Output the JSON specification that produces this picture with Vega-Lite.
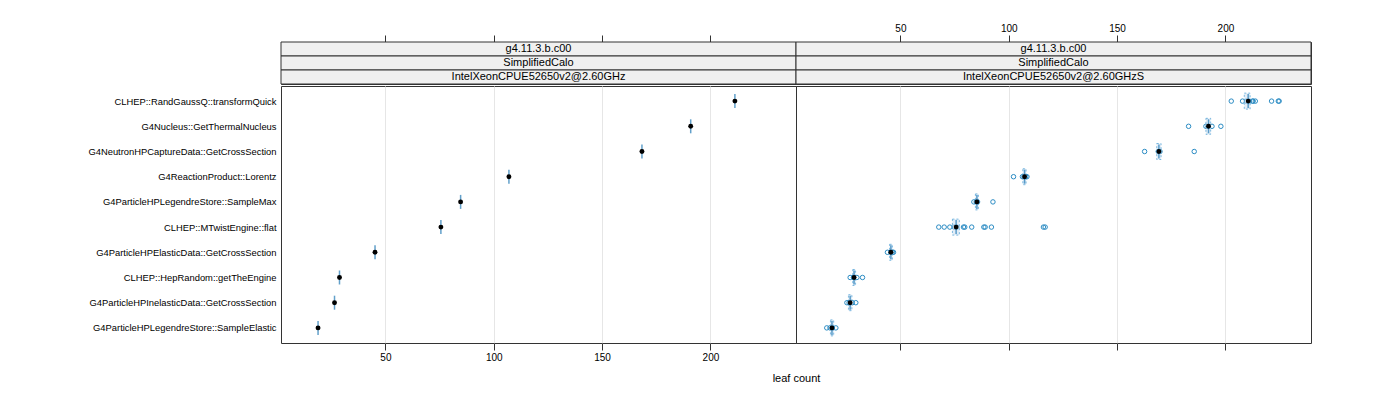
{
  "$schema": "https://vega.github.io/schema/vega-lite/v6.json",
  "config": {
    "font": "Liberation Sans",
    "view": {"stroke": "#333", "strokeWidth": 1},
    "axis": {"labelFontSize": 10, "labelColor": "#000", "tickColor": "#333", "domain": false, "labelFont": "Liberation Sans", "titleFont": "Liberation Sans"}
  },
  "datasets": {
    "summary": [
      {"panel": "L", "fn": "CLHEP::RandGaussQ::transformQuick", "value": 211.3},
      {"panel": "L", "fn": "G4Nucleus::GetThermalNucleus", "value": 190.9},
      {"panel": "L", "fn": "G4NeutronHPCaptureData::GetCrossSection", "value": 168.4},
      {"panel": "L", "fn": "G4ReactionProduct::Lorentz", "value": 107.0},
      {"panel": "L", "fn": "G4ParticleHPLegendreStore::SampleMax", "value": 84.7},
      {"panel": "L", "fn": "CLHEP::MTwistEngine::flat", "value": 75.6},
      {"panel": "L", "fn": "G4ParticleHPElasticData::GetCrossSection", "value": 45.2},
      {"panel": "L", "fn": "CLHEP::HepRandom::getTheEngine", "value": 28.8},
      {"panel": "L", "fn": "G4ParticleHPInelasticData::GetCrossSection", "value": 26.5},
      {"panel": "L", "fn": "G4ParticleHPLegendreStore::SampleElastic", "value": 18.9},
      {"panel": "R", "fn": "CLHEP::RandGaussQ::transformQuick", "value": 210.5, "lo": 208.7, "hi": 211.4},
      {"panel": "R", "fn": "G4Nucleus::GetThermalNucleus", "value": 192.2, "lo": 191.0, "hi": 193.2},
      {"panel": "R", "fn": "G4NeutronHPCaptureData::GetCrossSection", "value": 169.3, "lo": 168.3, "hi": 170.3},
      {"panel": "R", "fn": "G4ReactionProduct::Lorentz", "value": 107.3, "lo": 106.5, "hi": 108.0},
      {"panel": "R", "fn": "G4ParticleHPLegendreStore::SampleMax", "value": 85.3, "lo": 84.6, "hi": 86.0},
      {"panel": "R", "fn": "CLHEP::MTwistEngine::flat", "value": 75.7, "lo": 74.0, "hi": 77.2},
      {"panel": "R", "fn": "G4ParticleHPElasticData::GetCrossSection", "value": 45.6, "lo": 45.0, "hi": 46.3},
      {"panel": "R", "fn": "CLHEP::HepRandom::getTheEngine", "value": 28.6, "lo": 28.0, "hi": 29.3},
      {"panel": "R", "fn": "G4ParticleHPInelasticData::GetCrossSection", "value": 26.8, "lo": 26.0, "hi": 27.6},
      {"panel": "R", "fn": "G4ParticleHPLegendreStore::SampleElastic", "value": 18.4, "lo": 17.7, "hi": 19.2}
    ],
    "runs": [
      {"fn": "CLHEP::RandGaussQ::transformQuick", "value": 202.7},
      {"fn": "CLHEP::RandGaussQ::transformQuick", "value": 207.9},
      {"fn": "CLHEP::RandGaussQ::transformQuick", "value": 209.7},
      {"fn": "CLHEP::RandGaussQ::transformQuick", "value": 211.0},
      {"fn": "CLHEP::RandGaussQ::transformQuick", "value": 212.5},
      {"fn": "CLHEP::RandGaussQ::transformQuick", "value": 212.8},
      {"fn": "CLHEP::RandGaussQ::transformQuick", "value": 213.8},
      {"fn": "CLHEP::RandGaussQ::transformQuick", "value": 221.3},
      {"fn": "CLHEP::RandGaussQ::transformQuick", "value": 224.4},
      {"fn": "CLHEP::RandGaussQ::transformQuick", "value": 224.8},
      {"fn": "G4Nucleus::GetThermalNucleus", "value": 183.0},
      {"fn": "G4Nucleus::GetThermalNucleus", "value": 191.0},
      {"fn": "G4Nucleus::GetThermalNucleus", "value": 192.0},
      {"fn": "G4Nucleus::GetThermalNucleus", "value": 193.8},
      {"fn": "G4Nucleus::GetThermalNucleus", "value": 197.9},
      {"fn": "G4NeutronHPCaptureData::GetCrossSection", "value": 162.7},
      {"fn": "G4NeutronHPCaptureData::GetCrossSection", "value": 169.0},
      {"fn": "G4NeutronHPCaptureData::GetCrossSection", "value": 169.8},
      {"fn": "G4NeutronHPCaptureData::GetCrossSection", "value": 185.6},
      {"fn": "G4ReactionProduct::Lorentz", "value": 102.2},
      {"fn": "G4ReactionProduct::Lorentz", "value": 106.3},
      {"fn": "G4ReactionProduct::Lorentz", "value": 107.0},
      {"fn": "G4ReactionProduct::Lorentz", "value": 107.8},
      {"fn": "G4ReactionProduct::Lorentz", "value": 108.4},
      {"fn": "G4ParticleHPLegendreStore::SampleMax", "value": 83.9},
      {"fn": "G4ParticleHPLegendreStore::SampleMax", "value": 85.0},
      {"fn": "G4ParticleHPLegendreStore::SampleMax", "value": 85.6},
      {"fn": "G4ParticleHPLegendreStore::SampleMax", "value": 92.7},
      {"fn": "CLHEP::MTwistEngine::flat", "value": 67.7},
      {"fn": "CLHEP::MTwistEngine::flat", "value": 70.2},
      {"fn": "CLHEP::MTwistEngine::flat", "value": 72.8},
      {"fn": "CLHEP::MTwistEngine::flat", "value": 74.9},
      {"fn": "CLHEP::MTwistEngine::flat", "value": 76.0},
      {"fn": "CLHEP::MTwistEngine::flat", "value": 79.1},
      {"fn": "CLHEP::MTwistEngine::flat", "value": 79.7},
      {"fn": "CLHEP::MTwistEngine::flat", "value": 82.9},
      {"fn": "CLHEP::MTwistEngine::flat", "value": 88.5},
      {"fn": "CLHEP::MTwistEngine::flat", "value": 89.1},
      {"fn": "CLHEP::MTwistEngine::flat", "value": 92.0},
      {"fn": "CLHEP::MTwistEngine::flat", "value": 116.0},
      {"fn": "CLHEP::MTwistEngine::flat", "value": 116.8},
      {"fn": "G4ParticleHPElasticData::GetCrossSection", "value": 44.0},
      {"fn": "G4ParticleHPElasticData::GetCrossSection", "value": 45.6},
      {"fn": "G4ParticleHPElasticData::GetCrossSection", "value": 46.3},
      {"fn": "G4ParticleHPElasticData::GetCrossSection", "value": 46.8},
      {"fn": "CLHEP::HepRandom::getTheEngine", "value": 26.8},
      {"fn": "CLHEP::HepRandom::getTheEngine", "value": 28.3},
      {"fn": "CLHEP::HepRandom::getTheEngine", "value": 29.9},
      {"fn": "CLHEP::HepRandom::getTheEngine", "value": 32.5},
      {"fn": "G4ParticleHPInelasticData::GetCrossSection", "value": 25.3},
      {"fn": "G4ParticleHPInelasticData::GetCrossSection", "value": 26.3},
      {"fn": "G4ParticleHPInelasticData::GetCrossSection", "value": 27.8},
      {"fn": "G4ParticleHPInelasticData::GetCrossSection", "value": 29.4},
      {"fn": "G4ParticleHPLegendreStore::SampleElastic", "value": 16.0},
      {"fn": "G4ParticleHPLegendreStore::SampleElastic", "value": 17.5},
      {"fn": "G4ParticleHPLegendreStore::SampleElastic", "value": 18.6},
      {"fn": "G4ParticleHPLegendreStore::SampleElastic", "value": 20.2}
    ],
    "strips": [
      {"panel": "L", "level": 1, "label": "g4.11.3.b.c00"},
      {"panel": "L", "level": 2, "label": "SimplifiedCalo"},
      {"panel": "L", "level": 3, "label": "IntelXeonCPUE52650v2@2.60GHz"},
      {"panel": "R", "level": 1, "label": "g4.11.3.b.c00"},
      {"panel": "R", "level": 2, "label": "SimplifiedCalo"},
      {"panel": "R", "level": 3, "label": "IntelXeonCPUE52650v2@2.60GHzS"}
    ]
  },
  "spacing": 0,
  "vconcat": [
    {
      "spacing": 0,
      "bounds": "flush",
      "hconcat": [
        {
          "width": 515,
          "height": 42,
          "layer": [
            {
              "data": {"name": "summary"},
              "transform": [{"filter": "datum.panel === 'L'"}],
              "mark": {"type": "rule", "opacity": 0},
              "encoding": {
                "x": {"field": "value", "type": "quantitative", "scale": {"domain": [1.8, 239.5], "nice": false, "zero": false},
                  "axis": {"orient": "top", "values": [50, 100, 150, 200], "labels": false, "tickSize": 7, "grid": false, "title": null, "minExtent": 36, "maxExtent": 36}}
              }
            },
            {
              "data": {"name": "strips"},
              "transform": [{"filter": "datum.panel === 'L'"}],
              "mark": {"type": "rect", "fill": "#f0f0f0", "stroke": "#333", "strokeWidth": 1},
              "encoding": {"y": {"field": "level", "type": "ordinal", "axis": null, "scale": {"paddingInner": 0, "paddingOuter": 0}}}
            },
            {
              "data": {"name": "strips"},
              "transform": [{"filter": "datum.panel === 'L'"}],
              "mark": {"type": "text", "fontSize": 11, "color": "#000"},
              "encoding": {"y": {"field": "level", "type": "ordinal", "axis": null}, "text": {"field": "label"}}
            }
          ]
        },
        {
          "width": 515,
          "height": 42,
          "layer": [
            {
              "data": {"name": "summary"},
              "transform": [{"filter": "datum.panel === 'R'"}],
              "mark": {"type": "rule", "opacity": 0},
              "encoding": {
                "x": {"field": "value", "type": "quantitative", "scale": {"domain": [1.8, 239.5], "nice": false, "zero": false},
                  "axis": {"orient": "top", "values": [50, 100, 150, 200], "labels": true, "labelPadding": 2, "tickSize": 7, "grid": false, "title": null, "minExtent": 36, "maxExtent": 36}}
              }
            },
            {
              "data": {"name": "strips"},
              "transform": [{"filter": "datum.panel === 'R'"}],
              "mark": {"type": "rect", "fill": "#f0f0f0", "stroke": "#333", "strokeWidth": 1},
              "encoding": {"y": {"field": "level", "type": "ordinal", "axis": null, "scale": {"paddingInner": 0, "paddingOuter": 0}}}
            },
            {
              "data": {"name": "strips"},
              "transform": [{"filter": "datum.panel === 'R'"}],
              "mark": {"type": "text", "fontSize": 11, "color": "#000"},
              "encoding": {"y": {"field": "level", "type": "ordinal", "axis": null}, "text": {"field": "label"}}
            }
          ]
        }
      ]
    },
    {
      "spacing": 0,
      "bounds": "flush",
      "hconcat": [
        {
          "width": 515,
          "height": 257,
          "data": {"name": "summary"},
          "transform": [{"filter": "datum.panel === 'L'"}],
          "encoding": {
            "x": {"field": "value", "type": "quantitative", "scale": {"domain": [1.8, 239.5], "nice": false, "zero": false},
              "axis": {"orient": "bottom", "values": [50, 100, 150, 200], "tickSize": 7, "labelPadding": 2, "grid": true, "gridColor": "#e6e6e6",
                "title": "leaf count", "titleFontSize": 11, "titleFontWeight": "normal", "titleX": 515, "titleY": 35, "titleBaseline": "middle"}},
            "y": {"field": "fn", "type": "nominal",
              "scale": {"type": "point", "padding": 0.6, "domain": ["CLHEP::RandGaussQ::transformQuick", "G4Nucleus::GetThermalNucleus", "G4NeutronHPCaptureData::GetCrossSection", "G4ReactionProduct::Lorentz", "G4ParticleHPLegendreStore::SampleMax", "CLHEP::MTwistEngine::flat", "G4ParticleHPElasticData::GetCrossSection", "CLHEP::HepRandom::getTheEngine", "G4ParticleHPInelasticData::GetCrossSection", "G4ParticleHPLegendreStore::SampleElastic"]},
              "axis": {"title": null, "ticks": false, "domain": false, "labelPadding": 5, "minExtent": 275, "maxExtent": 275, "labelFontSize": 9.4, "labelLimit": 300}}
          },
          "layer": [
            {"mark": {"type": "tick", "orient": "vertical", "color": "#1f78b4", "size": 14, "thickness": 1.5}},
            {"mark": {"type": "circle", "color": "#000", "size": 24, "opacity": 1}}
          ]
        },
        {
          "width": 515,
          "height": 257,
          "encoding": {
            "x": {"field": "value", "type": "quantitative", "scale": {"domain": [1.8, 239.5], "nice": false, "zero": false},
              "axis": {"orient": "bottom", "values": [50, 100, 150, 200], "tickSize": 7, "labels": false, "grid": true, "gridColor": "#e6e6e6", "title": null}},
            "y": {"field": "fn", "type": "nominal",
              "scale": {"type": "point", "padding": 0.6, "domain": ["CLHEP::RandGaussQ::transformQuick", "G4Nucleus::GetThermalNucleus", "G4NeutronHPCaptureData::GetCrossSection", "G4ReactionProduct::Lorentz", "G4ParticleHPLegendreStore::SampleMax", "CLHEP::MTwistEngine::flat", "G4ParticleHPElasticData::GetCrossSection", "CLHEP::HepRandom::getTheEngine", "G4ParticleHPInelasticData::GetCrossSection", "G4ParticleHPLegendreStore::SampleElastic"]},
              "axis": null}
          },
          "layer": [
            {
              "data": {"name": "runs"},
              "mark": {"type": "point", "shape": "circle", "filled": false, "stroke": "#2b8cc4", "strokeWidth": 1, "size": 20, "opacity": 1}
            },
            {
              "data": {"name": "summary"},
              "transform": [{"filter": "datum.panel === 'R'"}],
              "mark": {"type": "bar", "height": 16, "fill": "#c6dbef", "fillOpacity": 0.5, "stroke": "#4a9fd6", "strokeWidth": 0.7, "strokeDash": [2, 2]},
              "encoding": {"x": {"field": "lo", "type": "quantitative"}, "x2": {"field": "hi"}}
            },
            {
              "data": {"name": "summary"},
              "transform": [{"filter": "datum.panel === 'R'"}],
              "mark": {"type": "tick", "orient": "vertical", "color": "#1f78b4", "size": 14, "thickness": 1.5}
            },
            {
              "data": {"name": "summary"},
              "transform": [{"filter": "datum.panel === 'R'"}],
              "mark": {"type": "circle", "color": "#000", "size": 24, "opacity": 1}
            }
          ]
        }
      ]
    }
  ]
}
